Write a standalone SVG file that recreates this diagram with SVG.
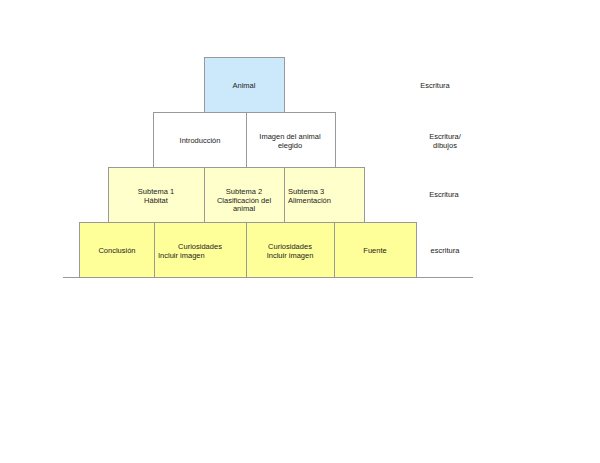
<svg xmlns="http://www.w3.org/2000/svg" width="600" height="463" viewBox="0 0 600 463">
<style>
rect{stroke:#999;stroke-width:1}
.b{fill:#cce9fb}.w{fill:#fff}.y1{fill:#ffffcc}.y2{fill:#ffff99}
text{font-family:"Liberation Sans",Arial,sans-serif;font-size:7.5px;fill:#222;text-anchor:middle}
.l{text-anchor:start}
</style>
<rect width="600" height="463" fill="#fff" style="stroke:none"/>
<g id="connectors">
<line x1="63" y1="277.5" x2="473" y2="277.5" stroke="#999" stroke-width="1"/>
</g>
<g id="animal"><rect class="b" x="204.5" y="57.5" width="80" height="55"/><text x="244" y="88">Animal</text></g>
<g id="introduccion"><rect class="w" x="153.5" y="112.5" width="93" height="55"/><text x="200" y="143">Introducción</text></g>
<g id="imagen"><rect class="w" x="246.5" y="112.5" width="89" height="55"/><text x="290" y="139">Imagen del animal</text><text x="290" y="148">elegido</text></g>
<g id="subtema1"><rect class="y1" x="108.5" y="167.5" width="96" height="55"/><text x="156" y="194">Subtema 1</text><text x="156" y="202.5">Hábitat</text></g>
<g id="subtema2"><rect class="y1" x="204.5" y="167.5" width="80" height="55"/><text x="244" y="194">Subtema 2</text><text x="244" y="202.5">Clasificación del</text><text x="244" y="211">animal</text></g>
<g id="subtema3"><rect class="y1" x="284.5" y="167.5" width="80" height="55"/><text class="l" x="288" y="194">Subtema 3</text><text class="l" x="288" y="202.5">Alimentación</text></g>
<g id="conclusion"><rect class="y2" x="79.5" y="222.5" width="75" height="55"/><text x="117" y="253">Conclusión</text></g>
<g id="curiosidades1"><rect class="y2" x="154.5" y="222.5" width="92" height="55"/><text x="200" y="249">Curiosidades</text><text class="l" x="158" y="257.5">Incluir imagen</text></g>
<g id="curiosidades2"><rect class="y2" x="246.5" y="222.5" width="88" height="55"/><text x="290" y="249">Curiosidades</text><text x="290" y="257.5">Incluir imagen</text></g>
<g id="fuente"><rect class="y2" x="334.5" y="222.5" width="82" height="55"/><text x="375" y="253">Fuente</text></g>
<g id="labels">
<text x="435" y="88">Escritura</text>
<text x="445" y="139">Escritura/</text><text x="445" y="148">dibujos</text>
<text x="444" y="197">Escritura</text>
<text x="445" y="253">escritura</text>
</g>
</svg>
